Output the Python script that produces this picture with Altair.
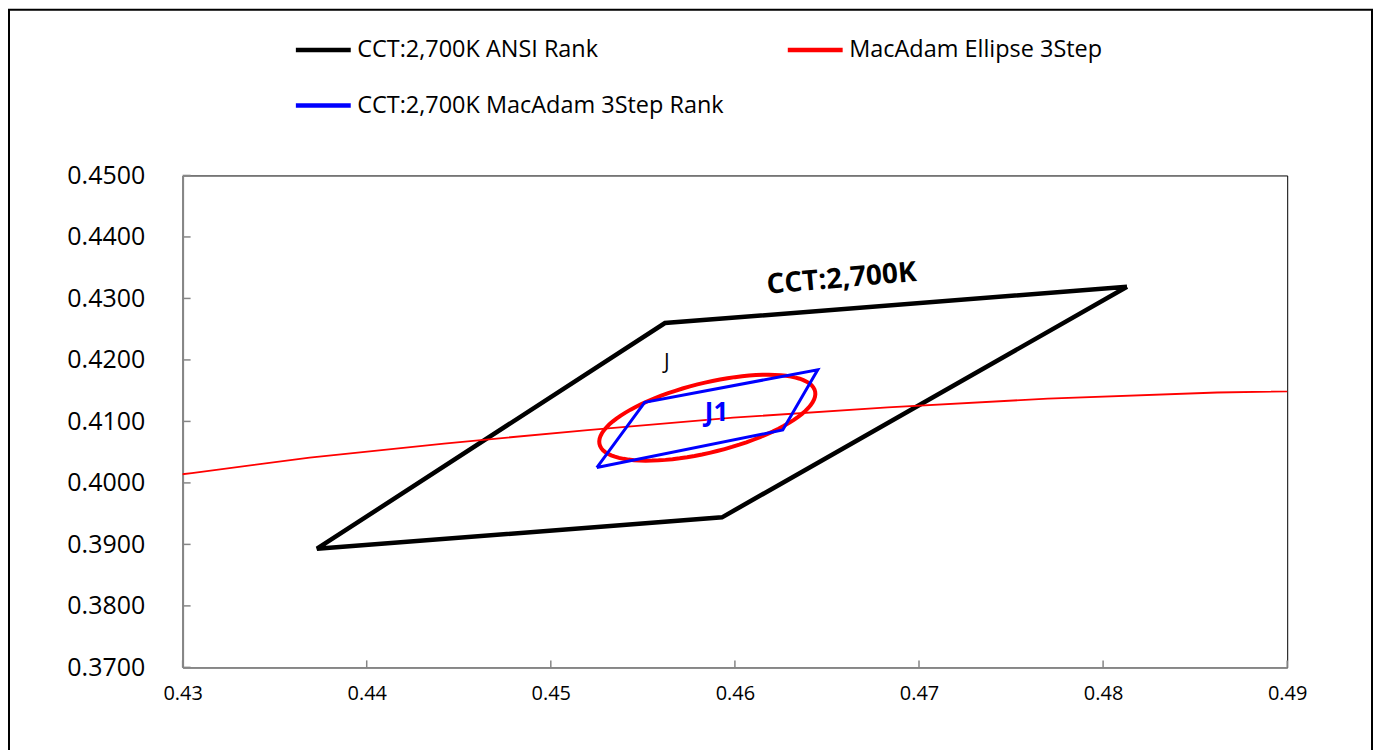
import altair as alt
import pandas as pd
import numpy as np

# ---- data ----
ansi_x = [0.4813, 0.4562, 0.4373, 0.4593, 0.4813]
ansi_y = [0.4319, 0.4260, 0.3893, 0.3944, 0.4319]

rank_x = [0.4525, 0.4551, 0.4645, 0.4626, 0.4525]
rank_y = [0.4025, 0.4131, 0.4184, 0.4086, 0.4025]

# MacAdam 3-step ellipse parameters (centre, semi axes, rotation in degrees)
ell_cx, ell_cy = 0.4585, 0.4106
ell_a, ell_b, ell_theta = 0.0081, 0.0042, 53.7

# black body (Planckian) locus
locus_x = [0.4234, 0.4305, 0.4369, 0.4442, 0.4520, 0.4599, 0.4683, 0.4770, 0.4862, 0.4958]
locus_y = [0.3990, 0.4016, 0.4041, 0.4064, 0.4086, 0.4106, 0.4123, 0.4137, 0.4147, 0.4152]

x_ticks = [0.43, 0.44, 0.45, 0.46, 0.47, 0.48, 0.49]
y_ticks = [0.37, 0.38, 0.39, 0.40, 0.41, 0.42, 0.43, 0.44, 0.45]

# legend entries (listed column by column)
series_names = ["CCT:2,700K ANSI Rank", "CCT:2,700K MacAdam 3Step Rank", "MacAdam Ellipse 3Step"]
series_colors = ["#000000", "#0000FF", "#FF0000"]

labels_text = ["CCT:2,700K", "J", "J1"]
labels_x = [0.4658, 0.4563, 0.4590]
labels_y = [0.4331, 0.4195, 0.4114]

# ---- build tables ----
ansi = pd.DataFrame({"series": series_names[0], "i": range(len(ansi_x)), "x": ansi_x, "y": ansi_y})
t = np.deg2rad(np.arange(0, 361, 4))
th = np.deg2rad(ell_theta)
ex = ell_cx + ell_a * np.cos(th) * np.cos(t) - ell_b * np.sin(th) * np.sin(t)
ey = ell_cy + ell_a * np.sin(th) * np.cos(t) + ell_b * np.cos(th) * np.sin(t)
ell = pd.DataFrame({"i": range(len(t)), "x": ex, "y": ey})
rank = pd.DataFrame({"i": range(len(rank_x)), "x": rank_x, "y": rank_y})
locus = pd.DataFrame({"x": locus_x, "y": locus_y, "i": range(len(locus_x))})
xt = pd.DataFrame({"v": x_ticks})
yt = pd.DataFrame({"v": y_ticks})

FONT = "Open Sans"
xscale = alt.Scale(domain=[0.43, 0.49], nice=False, zero=False)
yscale = alt.Scale(domain=[0.37, 0.45], nice=False, zero=False)

xaxis = alt.Axis(title=None, values=x_ticks, format=".2f", ticks=False, grid=False,
                 labelFontSize=20, labelFont=FONT, labelColor="#000", labelPadding=16,
                 labelFlush=False, labelOverlap=False,
                 domainColor="#868686", domainWidth=2)
yaxis = alt.Axis(title=None, values=y_ticks, format=".4f", ticks=False, grid=False,
                 labelFontSize=25, labelFont=FONT, labelColor="#000", labelPadding=38,
                 labelFlush=False, labelOverlap=False,
                 domainColor="#868686", domainWidth=2)

frame = alt.Chart(alt.Data(values=[{"a": 1}])).mark_rect(
    fill="white", fillOpacity=0, stroke="black", strokeWidth=2
).encode(x=alt.value(-174), x2=alt.value(1192), y=alt.value(-166), y2=alt.value(590))

black = alt.Chart(ansi).mark_line(strokeWidth=4.5, strokeJoin="miter").encode(
    x=alt.X("x:Q", scale=xscale, axis=xaxis),
    y=alt.Y("y:Q", scale=yscale, axis=yaxis),
    order="i:Q",
    color=alt.Color("series:N",
                    scale=alt.Scale(domain=series_names, range=series_colors),
                    legend=alt.Legend(title=None, orient="none", legendX=111, legendY=-156,
                                      columns=2, symbolType="stroke", symbolSize=3025,
                                      symbolStrokeWidth=4.5, labelFontSize=23.5, labelFont=FONT,
                                      labelColor="#000", labelLimit=700, columnPadding=54,
                                      rowPadding=14, labelOffset=4)),
)

ellipse = alt.Chart(ell).mark_line(strokeWidth=4, color="#FF0000").encode(
    x=alt.X("x:Q", scale=xscale), y=alt.Y("y:Q", scale=yscale), order="i:Q",
)

loc = alt.Chart(locus).mark_line(color="#FF0000", strokeWidth=1.8, clip=True).encode(
    x=alt.X("x:Q", scale=xscale), y=alt.Y("y:Q", scale=yscale), order="i:Q",
)

blue = alt.Chart(rank).mark_line(strokeWidth=3, strokeJoin="miter", color="#0000FF").encode(
    x=alt.X("x:Q", scale=xscale), y=alt.Y("y:Q", scale=yscale), order="i:Q",
)

xtick = alt.Chart(xt).mark_rule(color="#868686", strokeWidth=1.5).encode(
    x=alt.X("v:Q", scale=xscale), y=alt.value(493), y2=alt.value(486))
ytick = alt.Chart(yt).mark_rule(color="#868686", strokeWidth=1.5).encode(
    y=alt.Y("v:Q", scale=yscale), x=alt.value(0), x2=alt.value(8))

lab_df = pd.DataFrame({"t": labels_text, "x": labels_x, "y": labels_y})
t1 = alt.Chart(lab_df.iloc[[0]]).mark_text(font=FONT, fontSize=28, fontWeight="bold", angle=355,
                                           color="#000").encode(
    x=alt.X("x:Q", scale=xscale), y=alt.Y("y:Q", scale=yscale), text="t:N")
t2 = alt.Chart(lab_df.iloc[[1]]).mark_text(font=FONT, fontSize=21, color="#000").encode(
    x=alt.X("x:Q", scale=xscale), y=alt.Y("y:Q", scale=yscale), text="t:N")
t3 = alt.Chart(lab_df.iloc[[2]]).mark_text(font=FONT, fontSize=26, fontWeight="bold", color="#0000FF").encode(
    x=alt.X("x:Q", scale=xscale), y=alt.Y("y:Q", scale=yscale), text="t:N")

chart = alt.layer(frame, black, ellipse, loc, blue, xtick, ytick, t1, t2, t3).properties(
    width=1107, height=493,
    padding={"left": 175, "top": 167, "right": 86, "bottom": 90},
    autosize=alt.AutoSizeParams(type="none"),
    background="white",
).configure_view(stroke="#000000", strokeWidth=1)

chart.save("out.html", embed_options={"renderer": "svg", "actions": False})
